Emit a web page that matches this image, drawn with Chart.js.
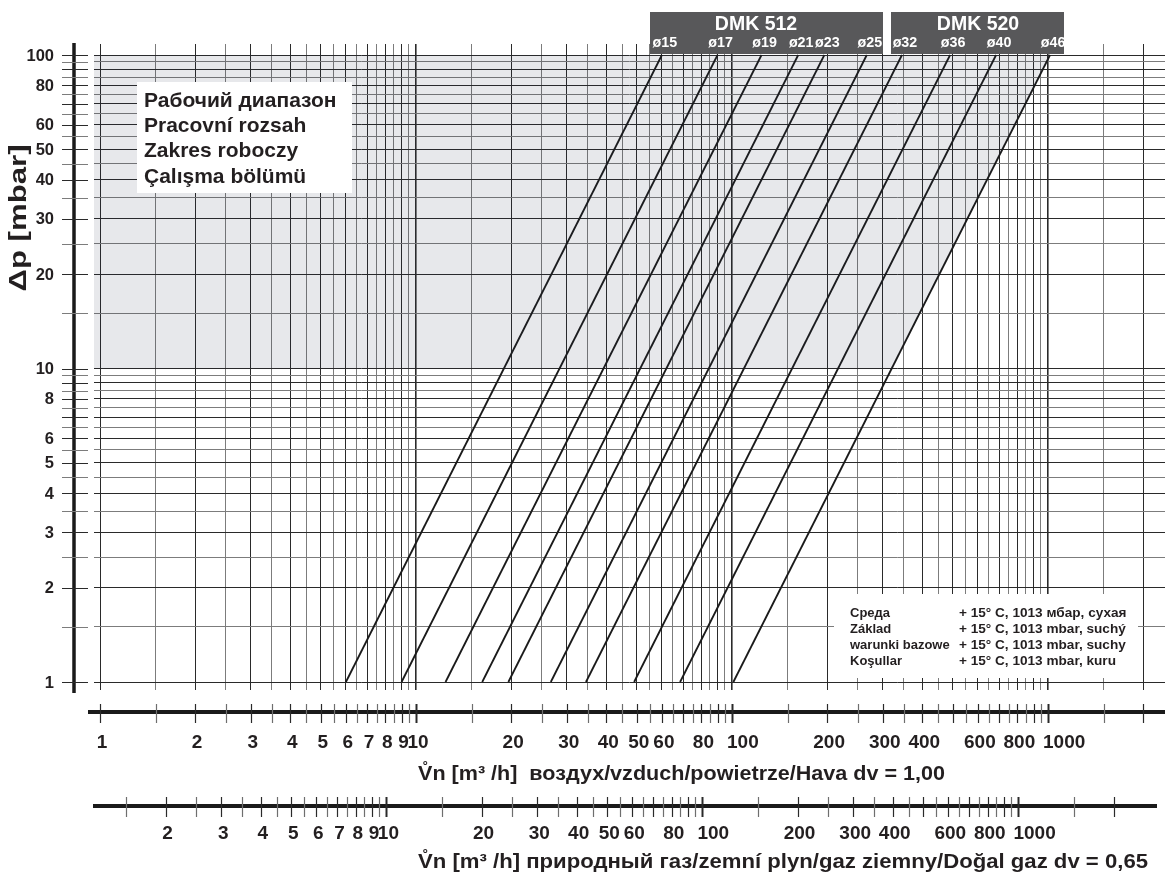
<!DOCTYPE html>
<html><head><meta charset="utf-8">
<script src="https://cdn.jsdelivr.net/npm/chart.js@4/dist/chart.umd.min.js"></script>
<style>html,body{margin:0;padding:0;background:#fff;overflow:hidden}#wrap{width:1165px;height:874px;position:relative}</style>
</head><body><div id="wrap"><canvas id="c" width="1165" height="874"></canvas></div>
<script>
// ---- data ----
const diameters = ['ø15','ø17','ø19','ø21','ø23','ø25','ø32','ø36','ø40','ø46'];
const seriesDMK512 = ['ø15','ø17','ø19','ø21','ø23','ø25'];
const seriesDMK520 = ['ø32','ø36','ø40','ø46'];
const flowAt1mbar   = [6.0, 9.0, 12.4, 16.2, 19.6, 26.7, 34.5, 49, 68.5, 101];
const flowAt100mbar = [60, 90, 124, 162, 196, 267, 345, 490, 685, 1015];
const pressureLow = 1, pressureHigh = 100;
const workRangeLow = 10, workRangeHigh = 100;
const gridMantissas = [1,1.5,2,2.5,3,3.5,4,4.5,5,5.5,6,6.5,7,7.5,8,8.5,9,9.5];
const yTickLabels = [1,2,3,4,5,6,8,10,20,30,40,50,60,80,100];
const airTickLabels = [1,2,3,4,5,6,7,8,9,10,20,30,40,50,60,80,100,200,300,400,600,800,1000];
const gasTickLabels = [2,3,4,5,6,7,8,9,10,20,30,40,50,60,80,100,200,300,400,600,800,1000];
const gasDensity = 0.65;
const legendLines = ['Рабочий диапазон','Pracovní rozsah','Zakres roboczy','Çalışma bölümü'];
const condLabels = ['Среда','Základ','warunki bazowe','Koşullar'];
const condValues = ['+ 15° C, 1013 мбар, сухая','+ 15° C, 1013 mbar, suchý','+ 15° C, 1013 mbar, suchy','+ 15° C, 1013 mbar, kuru'];
const airTitle = 'V̊n [m³ /h]  воздух/vzduch/powietrze/Hava dv = 1,00';
const gasTitle = 'V̊n [m³ /h] природный газ/zemní plyn/gaz ziemny/Doğal gaz dv = 0,65';
const yTitle = 'Δp [mbar]';

// ---- derived grids ----
const yGrid = [];
[1,10].forEach(d => gridMantissas.forEach(m => yGrid.push(+(m*d).toFixed(3))));
yGrid.push(100);
const xGrid = [];
[1,10,100].forEach(d => gridMantissas.forEach(m => xGrid.push(+(m*d).toFixed(3))));
xGrid.push(1000,1500,2000);
const gasTicks = xGrid.filter(v => v >= 1.5);

const FONT = '"Liberation Sans", Arial, Helvetica, sans-serif';
const INK = '#231f20';

const xMin = Math.pow(10, -6/316), xMax = Math.pow(10, 1065/316);
const yMin = Math.pow(10, -8/313.5), yMax = Math.pow(10, 638/313.5);

const datasets = [];
const last = diameters.length - 1;
const ratio = Math.sqrt(workRangeLow / pressureLow);
datasets.push({
  label: 'range',
  data: [
    {x: xMin, y: workRangeLow}, {x: xMin, y: workRangeHigh},
    {x: flowAt100mbar[last], y: workRangeHigh},
    {x: flowAt1mbar[last]*ratio, y: workRangeLow}
  ],
  showLine: true, fill: 'shape', backgroundColor: 'rgba(40,45,70,0.11)',
  borderWidth: 0, borderColor: 'rgba(0,0,0,0)', pointRadius: 0
});
diameters.forEach((d, i) => {
  datasets.push({
    label: d,
    data: [{x: flowAt1mbar[i], y: pressureLow}, {x: flowAt100mbar[i], y: pressureHigh}],
    showLine: true, borderColor: '#1a1a1a', borderWidth: 1.8, pointRadius: 0, fill: false
  });
});

function gridColor(ctx){ return (ctx.index % 2 === 0) ? '#2a2a2a' : '#7c7c7c'; }

function txt(c, s, x, y, size, align, target) {
  c.font = 'bold ' + size + 'px ' + FONT;
  const w = c.measureText(s).width;
  const sx = target ? target / w : 1;
  c.save(); c.translate(x, y); c.scale(sx, 1);
  c.textAlign = align; c.textBaseline = 'middle';
  c.fillText(s, 0, 0); c.restore();
}

function axisLabel(c, v, px, y) {
  if (v >= 100 && Math.log10(v) % 1 === 0) txt(c, String(v), px - 5, y, 19, 'left');
  else txt(c, String(v), px + 2, y, 19, 'center');
}

const overlay = {
  id: 'overlay',
  afterDraw(chart) {
    const c = chart.ctx, xs = chart.scales.x, ys = chart.scales.y;
    c.save();
    c.fillStyle = '#fff';
    c.fillRect(137, 82, 215, 111);
    c.fillStyle = INK;
    legendLines.forEach((t, i) => txt(c, t, 144, 101 + i*25.3, 21, 'left'));
    c.fillStyle = '#fff';
    c.fillRect(834, 594, 304, 84);
    c.fillStyle = INK;
    condLabels.forEach((t, i) => {
      txt(c, t, 850, 613 + i*16, 13, 'left');
      txt(c, condValues[i], 959, 613 + i*16, 13.6, 'left');
    });
    c.fillStyle = '#58585a';
    c.fillRect(650, 12, 233, 42);
    c.fillRect(891, 12, 173, 42);
    c.fillStyle = '#fff';
    txt(c, 'DMK 512', 756, 25, 19.5, 'center');
    txt(c, 'DMK 520', 978, 25, 19.5, 'center');
    diameters.forEach((d, i) => {
      const px = xs.getPixelForValue(flowAt100mbar[i]);
      txt(c, d, px + 3, 43.5, 14.3, 'center');
    });
    c.strokeStyle = '#1a1a1a';
    c.lineWidth = 3.5;
    c.beginPath(); c.moveTo(74, 43); c.lineTo(74, 693); c.stroke();
    yGrid.forEach((v, i) => {
      const py = Math.round(ys.getPixelForValue(v)) + 0.5;
      c.strokeStyle = (i % 2 === 0) ? '#2a2a2a' : '#7c7c7c';
      c.lineWidth = 1;
      c.beginPath(); c.moveTo(62, py); c.lineTo(88, py); c.stroke();
    });
    c.fillStyle = INK;
    yTickLabels.forEach(v => txt(c, String(v), 54, ys.getPixelForValue(v) + 1, 16.5, 'right'));
    c.save();
    c.translate(20, 218); c.rotate(-Math.PI/2);
    txt(c, yTitle, 0, 0, 23, 'center', 147);
    c.restore();
    const airY = 712;
    c.strokeStyle = '#1a1a1a'; c.lineWidth = 4;
    c.beginPath(); c.moveTo(88, airY); c.lineTo(1165, airY); c.stroke();
    xGrid.forEach((v, i) => {
      const px = Math.round(xs.getPixelForValue(v)) + 0.5;
      const dec = [10,100,1000].includes(v);
      c.strokeStyle = (i % 2 === 0) ? '#2a2a2a' : '#6e6e6e';
      c.lineWidth = dec ? 2 : 1.2;
      c.beginPath(); c.moveTo(px, 704); c.lineTo(px, 723); c.stroke();
    });
    c.fillStyle = INK;
    airTickLabels.forEach(v => axisLabel(c, v, xs.getPixelForValue(v), 743));
    txt(c, airTitle, 418, 774, 20, 'left', 527);
    const gasY = 806;
    const f = Math.sqrt(gasDensity);
    c.strokeStyle = '#1a1a1a'; c.lineWidth = 4;
    c.beginPath(); c.moveTo(93, gasY); c.lineTo(1157, gasY); c.stroke();
    gasTicks.forEach((v, i) => {
      const px = Math.round(xs.getPixelForValue(v * f)) + 0.5;
      const dec = [10,100,1000].includes(v);
      c.strokeStyle = (i % 2 === 0) ? '#6e6e6e' : '#2a2a2a';
      c.lineWidth = dec ? 2 : 1.2;
      c.beginPath(); c.moveTo(px, 797); c.lineTo(px, 817); c.stroke();
    });
    c.fillStyle = INK;
    gasTickLabels.forEach(v => axisLabel(c, v, xs.getPixelForValue(v * f), 834));
    txt(c, gasTitle, 418, 862, 20, 'left', 730);
    c.restore();
  }
};

new Chart(document.getElementById('c'), {
  type: 'scatter',
  data: { datasets },
  options: {
    responsive: false, animation: false, devicePixelRatio: 1,
    layout: { padding: { left: 94, top: 44, right: 0, bottom: 184 } },
    plugins: { legend: { display: false }, tooltip: { enabled: false } },
    scales: {
      x: {
        type: 'logarithmic', min: xMin, max: xMax,
        afterBuildTicks: s => { s.ticks = xGrid.map(v => ({ value: v })); },
        ticks: { display: false },
        grid: { color: gridColor, lineWidth: ctx => ([10,100,1000].includes(ctx.tick && ctx.tick.value) ? 1.6 : 1), drawTicks: false },
        border: { display: false }
      },
      y: {
        type: 'logarithmic', min: yMin, max: yMax,
        afterBuildTicks: s => { s.ticks = yGrid.map(v => ({ value: v })); },
        ticks: { display: false },
        grid: { color: gridColor, lineWidth: 1, drawTicks: false },
        border: { display: false }
      }
    }
  },
  plugins: [overlay]
});
</script>
</body></html>
